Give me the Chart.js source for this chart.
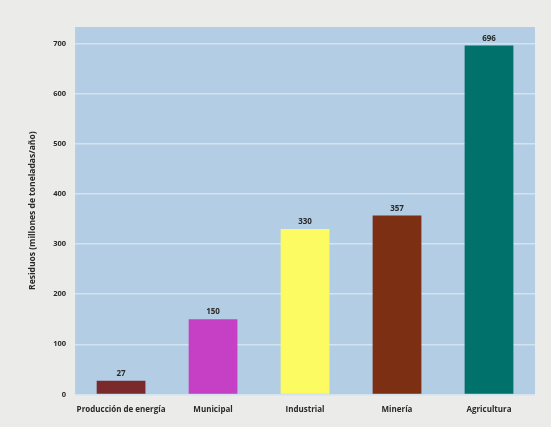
<!DOCTYPE html>
<html>
<head>
<meta charset="utf-8">
<script src="https://cdn.jsdelivr.net/npm/chart.js@4.4.0/dist/chart.umd.min.js"></script>
<style>
  html, body { margin: 0; padding: 0; background: #ebebea; }
  #wrap { width: 551px; height: 427px; }
</style>
</head>
<body>
<div id="wrap"><canvas id="grafica"></canvas></div>
<script>
const categorias = ['Producción de energía', 'Municipal', 'Industrial', 'Minería', 'Agricultura'];
const residuos = [27, 150, 330, 357, 696];
const colores = ['#7b2a2c', '#c540c4', '#fcfc62', '#7c2f12', '#00716b'];
const ticksY = [0, 100, 200, 300, 400, 500, 600, 700];

// fondo azul del área del gráfico
const fondoArea = {
  id: 'fondoArea',
  beforeDraw(chart) {
    const { ctx, chartArea: a } = chart;
    ctx.save();
    ctx.fillStyle = '#b3cee4';
    ctx.fillRect(a.left, a.top, a.right - a.left, a.bottom - a.top);
    ctx.restore();
  }
};

// números encima de cada barra
const etiquetas = {
  id: 'etiquetas',
  afterDatasetsDraw(chart) {
    const { ctx } = chart;
    const meta = chart.getDatasetMeta(0);
    ctx.save();
    ctx.font = 'bold 8px "Open Sans"';
    ctx.fillStyle = '#2a2a2a';
    ctx.textAlign = 'center';
    ctx.textBaseline = 'bottom';
    meta.data.forEach((bar, i) => {
      ctx.fillText(residuos[i], bar.x, bar.y - 3);
    });
    ctx.restore();
  }
};

new Chart(document.getElementById('grafica'), {
  type: 'bar',
  data: {
    labels: categorias,
    datasets: [{
      data: residuos,
      backgroundColor: colores,
      barPercentage: 0.53,
      categoryPercentage: 1
    }]
  },
  options: {
    responsive: true,
    maintainAspectRatio: false,
    animation: false,
    layout: { padding: { top: 27, right: 16, left: 23, bottom: 9 } },
    plugins: { legend: { display: false }, tooltip: { enabled: false } },
    scales: {
      x: {
        grid: { display: false },
        border: { display: false },
        ticks: { color: '#2a2a2a', font: { family: 'Open Sans', size: 8, weight: 'bold' }, maxRotation: 0, autoSkip: false, padding: 3 }
      },
      y: {
        min: 0,
        max: 733,
        afterBuildTicks(axis) {
          axis.ticks = ticksY.map(v => ({ value: v }));
        },
        grid: { color: '#d3e3f0', lineWidth: 1.5, drawTicks: false },
        border: { display: false },
        ticks: { color: '#2a2a2a', font: { family: 'Open Sans', size: 7.5, weight: 'bold' }, padding: 9 },
        title: {
          display: true,
          text: 'Residuos (millones de toneladas/año)',
          color: '#2a2a2a',
          font: { family: 'Open Sans', size: 8.5, weight: 'bold' },
          padding: { bottom: 7 }
        }
      }
    }
  },
  plugins: [fondoArea, etiquetas]
});
</script>
</body>
</html>
